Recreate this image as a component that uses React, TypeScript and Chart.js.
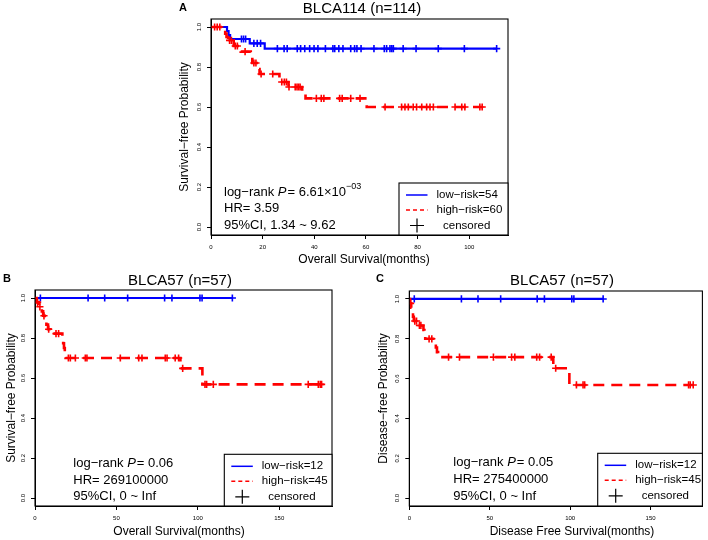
import React, { useEffect, useRef } from 'react';
import { Chart, registerables } from 'chart.js';
Chart.register(...registerables);

const FONT = '"Liberation Sans", Arial, Helvetica, sans-serif';
const BLUE = '#0000ff';
const RED = '#ff0000';

// ---------- shared axis ticks ----------
const yTickValues = [0, 0.2, 0.4, 0.6, 0.8, 1.0];
const yTickLabels = ['0.0', '0.2', '0.4', '0.6', '0.8', '1.0'];
const aXTicks = [0, 20, 40, 60, 80, 100];
const bcXTicks = [0, 50, 100, 150];

// ---------- Panel A: BLCA114 ----------
const aLowTimes = [0, 6.2, 6.8, 7.4, 15.0, 20.8];
const aLowSurv = [1, 0.98, 0.96, 0.94, 0.918, 0.892];
const aLowEnd = 110.6;
const aLowCensor = [11.8, 12.6, 13.4, 16.6, 17.9, 19.2, 25.7, 28.3, 29.5, 33.4, 34.7, 36.3, 38.2, 39.9, 41.4, 44.3, 47.2, 47.9, 49.5, 51.1, 54.1, 55.6, 56.5, 58.1, 63.1, 67.1, 68.0, 69.3, 70.0, 70.6, 74.4, 79.4, 88.0, 98.1, 110.6];

const aHighTimes = [0, 5.0, 5.5, 6.0, 6.6, 8.8, 11.5, 15.4, 16.0, 18.2, 18.8, 26.5, 30.0, 35.3, 36.6, 60.3];
const aHighSurv = [1, 0.983, 0.967, 0.95, 0.933, 0.905, 0.877, 0.84, 0.82, 0.79, 0.765, 0.725, 0.70, 0.677, 0.643, 0.60];
const aHighEnd = 105.2;
const aHighCensor = [1.4, 2.4, 3.4, 7.2, 7.9, 9.4, 10.2, 13.2, 16.6, 17.4, 19.4, 23.9, 27.4, 28.4, 29.2, 30.2, 32.6, 33.3, 33.9, 34.5, 40.8, 42.7, 43.7, 49.8, 50.8, 54.1, 57.7, 67.4, 73.8, 75.1, 76.4, 78.3, 79.6, 81.6, 83.5, 84.8, 86.1, 94.5, 97.1, 98.3, 104.1, 105.0];

// ---------- Panel B: BLCA57 overall survival ----------
const bLowTimes = [0];
const bLowSurv = [1];
const bLowEnd = 121.2;
const bLowCensor = [3.3, 32.6, 42.8, 56.9, 79.6, 84.1, 101.3, 102.6, 121.2];

const bHighTimes = [0, 1.0, 2.5, 4.2, 5.0, 6.0, 7.0, 8.0, 9.5, 16.8, 17.3, 17.8, 18.3, 18.8, 89.3, 102.8];
const bHighSurv = [1, 0.978, 0.956, 0.933, 0.911, 0.889, 0.867, 0.844, 0.822, 0.798, 0.774, 0.75, 0.726, 0.70, 0.648, 0.568];
const bHighEnd = 176.0;
const bHighCensor = [1.6, 3.0, 5.5, 8.4, 12.9, 14.5, 20.5, 21.7, 24.8, 30.9, 31.9, 52.4, 63.7, 65.7, 80.0, 81.1, 86.1, 88.2, 90.7, 104.4, 105.4, 109.5, 167.8, 174.0, 175.2, 176.0];

// ---------- Panel C: BLCA57 disease free survival ----------
const cLowTimes = [0];
const cLowSurv = [1];
const cLowEnd = 120.5;
const cLowCensor = [3.1, 32.4, 42.7, 56.8, 79.5, 84.0, 101.0, 102.3, 120.5];

const cHighTimes = [0, 0.5, 1.2, 1.8, 2.3, 2.8, 5.5, 8.8, 9.4, 9.9, 15.9, 16.5, 17.2, 17.9, 89.5, 99.5];
const cHighSurv = [1, 0.978, 0.956, 0.933, 0.911, 0.889, 0.867, 0.844, 0.822, 0.80, 0.778, 0.756, 0.733, 0.708, 0.652, 0.568];
const cHighEnd = 176.5;
const cHighCensor = [0.8, 3.4, 4.5, 6.3, 7.2, 12.3, 14.0, 24.4, 31.2, 52.3, 63.6, 65.6, 79.2, 81.0, 88.2, 91.0, 103.9, 108.0, 109.0, 173.6, 174.6, 176.5];

// ---------- helpers ----------
function stepPoints(times: number[], surv: number[], end: number) {
  const pts = times.map((t, i) => ({ x: t, y: surv[i] }));
  pts.push({ x: end, y: surv[surv.length - 1] });
  return pts;
}
function survAt(times: number[], surv: number[], t: number) {
  let s = surv[0];
  for (let i = 0; i < times.length; i++) if (times[i] <= t) s = surv[i];
  return s;
}
function censorPoints(times: number[], surv: number[], cens: number[]) {
  return cens.map((t) => ({ x: t, y: survAt(times, surv, t) }));
}

interface Panel {
  L: number; R: number; T: number; B: number;
  xMax: number; xTicks: number[];
  letter: string; letterX: number; letterY: number;
  title: string; titleX: number; titleY: number;
  yTitle: string; yTitleX: number;
  xTitle: string; xTitleX: number; xTitleY: number;
  annX: number; annY: number[]; pMain: string; pSup: string; hr: string; ci: string;
  legL: number; legT: number; lowLabel: string; highLabel: string;
  lowT: number[]; lowS: number[]; lowEnd: number; lowC: number[];
  highT: number[]; highS: number[]; highEnd: number; highC: number[];
}

const panels: Panel[] = [
  {
    L: 211, R: 508, T: 19, B: 235, xMax: 115, xTicks: aXTicks,
    letter: 'A', letterX: 183, letterY: 8,
    title: 'BLCA114 (n=114)', titleX: 362, titleY: 9,
    yTitle: 'Survival\u2212free Probability', yTitleX: 185,
    xTitle: 'Overall Survival(months)', xTitleX: 364, xTitleY: 260,
    annX: 224, annY: [192, 208.7, 225.4], pMain: '= 6.61\u00d710', pSup: '\u221203', hr: 'HR= 3.59', ci: '95%CI, 1.34 ~ 9.62',
    legL: 399, legT: 183, lowLabel: 'low\u2212risk=54', highLabel: 'high\u2212risk=60',
    lowT: aLowTimes, lowS: aLowSurv, lowEnd: aLowEnd, lowC: aLowCensor,
    highT: aHighTimes, highS: aHighSurv, highEnd: aHighEnd, highC: aHighCensor,
  },
  {
    L: 35, R: 332, T: 290, B: 506, xMax: 182.4, xTicks: bcXTicks,
    letter: 'B', letterX: 7, letterY: 278.5,
    title: 'BLCA57 (n=57)', titleX: 180, titleY: 281,
    yTitle: 'Survival\u2212free Probability', yTitleX: 12,
    xTitle: 'Overall Survival(months)', xTitleX: 179, xTitleY: 531.5,
    annX: 73.3, annY: [463.3, 480, 496.7], pMain: '= 0.06', pSup: '', hr: 'HR= 269100000', ci: '95%CI, 0 ~ Inf',
    legL: 224.3, legT: 454.3, lowLabel: 'low\u2212risk=12', highLabel: 'high\u2212risk=45',
    lowT: bLowTimes, lowS: bLowSurv, lowEnd: bLowEnd, lowC: bLowCensor,
    highT: bHighTimes, highS: bHighSurv, highEnd: bHighEnd, highC: bHighCensor,
  },
  {
    L: 409.3, R: 705.7, T: 291, B: 506, xMax: 182.2, xTicks: bcXTicks,
    letter: 'C', letterX: 380, letterY: 278.5,
    title: 'BLCA57 (n=57)', titleX: 562, titleY: 281,
    yTitle: 'Disease\u2212free Probability', yTitleX: 384,
    xTitle: 'Disease Free Survival(months)', xTitleX: 572, xTitleY: 531.5,
    annX: 453.3, annY: [462.7, 479.5, 496], pMain: '= 0.05', pSup: '', hr: 'HR= 275400000', ci: '95%CI, 0 ~ Inf',
    legL: 597.7, legT: 453.3, lowLabel: 'low\u2212risk=12', highLabel: 'high\u2212risk=45',
    lowT: cLowTimes, lowS: cLowSurv, lowEnd: cLowEnd, lowC: cLowCensor,
    highT: cHighTimes, highS: cHighSurv, highEnd: cHighEnd, highC: cHighCensor,
  },
];

const W = 708;
const H = 540;
const XH = 22;
const YW = 20;

function makeChart(canvas: HTMLCanvasElement, p: Panel) {
  const deco = {
    id: 'deco' + p.letter,
    afterDraw(chart: any) {
      const ctx: CanvasRenderingContext2D = chart.ctx;
      const a = chart.chartArea;
      const ys = chart.scales.y;
      ctx.save();
      ctx.strokeStyle = '#000';
      ctx.lineWidth = 1.1;
      ctx.strokeRect(a.left, a.top, a.right - a.left, a.bottom - a.top);

      // y tick labels (rotated like R)
      ctx.fillStyle = '#000';
      ctx.font = `6px ${FONT}`;
      ctx.textAlign = 'center';
      ctx.textBaseline = 'middle';
      yTickValues.forEach((v, i) => {
        const y = ys.getPixelForValue(v);
        ctx.save();
        ctx.translate(a.left - 11.5, y);
        ctx.rotate(-Math.PI / 2);
        ctx.fillText(yTickLabels[i], 0, 0);
        ctx.restore();
      });

      // panel letter
      ctx.font = `bold 11px ${FONT}`;
      ctx.fillText(p.letter, p.letterX, p.letterY);
      // title
      ctx.font = `15px ${FONT}`;
      ctx.fillText(p.title, p.titleX, p.titleY);
      // axis titles
      ctx.font = `12px ${FONT}`;
      ctx.fillText(p.xTitle, p.xTitleX, p.xTitleY);
      ctx.save();
      ctx.translate(p.yTitleX, (a.top + a.bottom) / 2);
      ctx.rotate(-Math.PI / 2);
      ctx.fillText(p.yTitle, 0, 0);
      ctx.restore();

      // annotation
      ctx.textAlign = 'left';
      let x = p.annX;
      const y0 = p.annY[0];
      ctx.font = `13px ${FONT}`;
      const lr = 'log\u2212rank ';
      ctx.fillText(lr, x, y0);
      x += ctx.measureText(lr).width;
      ctx.font = `italic 13px ${FONT}`;
      ctx.fillText('P', x, y0);
      x += ctx.measureText('P').width + 1;
      ctx.font = `13px ${FONT}`;
      ctx.fillText(p.pMain, x, y0);
      x += ctx.measureText(p.pMain).width;
      if (p.pSup) {
        ctx.font = `9px ${FONT}`;
        ctx.fillText(p.pSup, x, y0 - 5);
      }
      ctx.font = `13px ${FONT}`;
      ctx.fillText(p.hr, p.annX, p.annY[1]);
      ctx.fillText(p.ci, p.annX, p.annY[2]);

      // legend
      const lx = p.legL;
      const ly = p.legT;
      ctx.fillStyle = '#fff';
      ctx.fillRect(lx, ly, a.right - lx, a.bottom - ly);
      ctx.strokeStyle = '#000';
      ctx.lineWidth = 1.1;
      ctx.strokeRect(lx, ly, a.right - lx, a.bottom - ly);
      const r1 = ly + 12;
      const r2 = ly + 27;
      const r3 = ly + 42.5;
      ctx.lineWidth = 1.5;
      ctx.strokeStyle = BLUE;
      ctx.beginPath();
      ctx.moveTo(lx + 7, r1);
      ctx.lineTo(lx + 28.5, r1);
      ctx.stroke();
      ctx.strokeStyle = RED;
      ctx.setLineDash([4, 3]);
      ctx.beginPath();
      ctx.moveTo(lx + 7, r2);
      ctx.lineTo(lx + 28.5, r2);
      ctx.stroke();
      ctx.setLineDash([]);
      ctx.strokeStyle = '#000';
      ctx.lineWidth = 1.2;
      ctx.beginPath();
      ctx.moveTo(lx + 11, r3);
      ctx.lineTo(lx + 25, r3);
      ctx.moveTo(lx + 18, r3 - 7);
      ctx.lineTo(lx + 18, r3 + 7);
      ctx.stroke();
      ctx.fillStyle = '#000';
      ctx.font = `11.5px ${FONT}`;
      ctx.fillText(p.lowLabel, lx + 37.5, r1);
      ctx.fillText(p.highLabel, lx + 37.5, r2);
      ctx.fillText('censored', lx + 44, r3);
      ctx.restore();
    },
  };

  return new Chart(canvas, {
    type: 'line',
    data: {
      datasets: [
        {
          data: stepPoints(p.highT, p.highS, p.highEnd),
          borderColor: RED,
          borderWidth: 2.6,
          borderDash: [11, 7],
          stepped: 'before',
          pointRadius: 0,
          fill: false,
        },
        {
          data: censorPoints(p.highT, p.highS, p.highC),
          borderColor: RED,
          backgroundColor: RED,
          showLine: false,
          pointStyle: 'cross',
          pointRadius: 3.6,
          pointBorderWidth: 1.6,
        },
        {
          data: stepPoints(p.lowT, p.lowS, p.lowEnd),
          borderColor: BLUE,
          borderWidth: 2.2,
          stepped: 'before',
          pointRadius: 0,
          fill: false,
        },
        {
          data: censorPoints(p.lowT, p.lowS, p.lowC),
          borderColor: BLUE,
          backgroundColor: BLUE,
          showLine: false,
          pointStyle: 'cross',
          pointRadius: 3.6,
          pointBorderWidth: 1.6,
        },
      ] as any,
    },
    options: {
      responsive: false,
      animation: false,
      events: [],
      layout: {
        padding: { left: p.L - YW, right: W - p.R, top: p.T, bottom: H - p.B - XH },
      },
      plugins: {
        legend: { display: false },
        tooltip: { enabled: false },
        title: { display: false },
      },
      scales: {
        x: {
          type: 'linear',
          min: 0,
          max: p.xMax,
          afterBuildTicks: (s: any) => {
            s.ticks = p.xTicks.map((v) => ({ value: v }));
          },
          afterFit: (s: any) => {
            s.height = XH;
          },
          grid: { drawOnChartArea: false, drawTicks: true, tickLength: 4, color: '#000', lineWidth: 1 },
          border: { display: true, color: '#000', width: 1 },
          ticks: {
            autoSkip: false,
            maxRotation: 0,
            padding: 5,
            color: '#000',
            font: { size: 6, family: FONT },
            callback: (v: any) => String(v),
          },
        },
        y: {
          type: 'linear',
          min: -0.04,
          max: 1.04,
          afterBuildTicks: (s: any) => {
            s.ticks = yTickValues.map((v) => ({ value: v }));
          },
          afterFit: (s: any) => {
            s.width = YW;
          },
          grid: { drawOnChartArea: false, drawTicks: true, tickLength: 4, color: '#000', lineWidth: 1 },
          border: { display: true, color: '#000', width: 1 },
          ticks: { display: false },
        },
      },
    } as any,
    plugins: [deco],
  });
}

export default function App() {
  const r0 = useRef<HTMLCanvasElement>(null);
  const r1 = useRef<HTMLCanvasElement>(null);
  const r2 = useRef<HTMLCanvasElement>(null);
  useEffect(() => {
    const refs = [r0, r1, r2];
    const charts = panels.map((p, i) => makeChart(refs[i].current as HTMLCanvasElement, p));
    return () => charts.forEach((c) => c.destroy());
  }, []);
  const cs: React.CSSProperties = { position: 'absolute', left: 0, top: 0 };
  return (
    <div style={{ position: 'absolute', left: 0, top: 0, width: W, height: H, background: '#fff' }}>
      <canvas ref={r0} width={W} height={H} style={cs} />
      <canvas ref={r1} width={W} height={H} style={cs} />
      <canvas ref={r2} width={W} height={H} style={cs} />
    </div>
  );
}
